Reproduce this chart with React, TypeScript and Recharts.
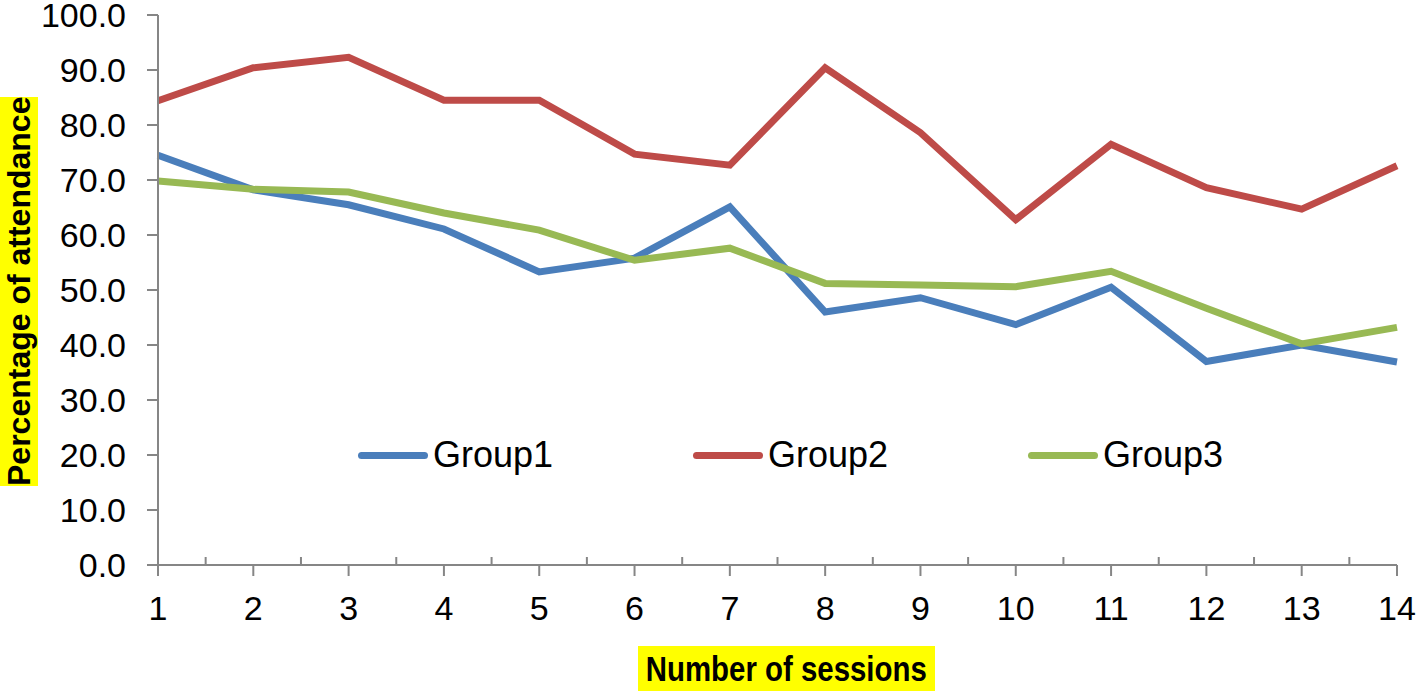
import {
  LineChart,
  Line,
  XAxis,
  YAxis,
} from "recharts";

const sessions = [1, 2, 3, 4, 5, 6, 7, 8, 9, 10, 11, 12, 13, 14];
const group1 = [74.5, 68.2, 65.5, 61.1, 53.3, 55.8, 65.1, 46.0, 48.6, 43.7, 50.5, 37.0, 40.0, 36.9];
const group2 = [84.4, 90.4, 92.3, 84.5, 84.5, 74.7, 72.7, 90.4, 78.6, 62.8, 76.5, 68.6, 64.7, 72.6];
const group3 = [69.8, 68.3, 67.8, 64.0, 60.9, 55.4, 57.6, 51.2, 50.9, 50.6, 53.4, 46.7, 40.2, 43.2];

const yTicks = [0, 10, 20, 30, 40, 50, 60, 70, 80, 90, 100];
// major ticks on sessions, minor ticks half-way between
const xTicks = sessions.flatMap((s) => (s < 14 ? [s, s + 0.5] : [s]));

const seriesNames = ["Group1", "Group2", "Group3"];
const colors = ["#4a7ebb", "#be4b48", "#98b954"];

const chartData = sessions.map((s, i) => ({
  session: s,
  Group1: group1[i],
  Group2: group2[i],
  Group3: group3[i],
}));

const axisColor = "#868686";
const font = "'Liberation Sans', Arial, sans-serif";

const XTick = (props: any) => {
  const { x, y, payload } = props;
  const v = payload.value as number;
  if (!Number.isInteger(v)) {
    return <line x1={x} x2={x} y1={y - 8} y2={y} stroke={axisColor} strokeWidth={2} />;
  }
  return (
    <g>
      <line x1={x} x2={x} y1={y} y2={y + 11} stroke={axisColor} strokeWidth={2} />
      <text
        x={x}
        y={y + 43}
        textAnchor="middle"
        dominantBaseline="central"
        fontSize={34}
        fontFamily={font}
        fill="#000"
      >
        {v}
      </text>
    </g>
  );
};

const App = () => {
  return (
    <div
      style={{
        position: "absolute",
        left: 0,
        top: 0,
        width: 1418,
        height: 691,
        background: "#fff",
      }}
    >
      <LineChart
        width={1418}
        height={691}
        data={chartData}
        margin={{ top: 15, right: 21, left: 0, bottom: 0 }}
      >
        <XAxis
          dataKey="session"
          type="number"
          domain={[1, 14]}
          ticks={xTicks}
          interval={0}
          height={126}
          tickSize={0}
          tickMargin={0}
          tickLine={false}
          tick={<XTick />}
          axisLine={{ stroke: axisColor, strokeWidth: 2 }}
        />
        <YAxis
          domain={[0, 100]}
          ticks={yTicks}
          interval={0}
          width={158}
          tickSize={11}
          tickMargin={21}
          tickFormatter={(v: number) => v.toFixed(1)}
          tick={{ fontSize: 34, fontFamily: font, fill: "#000" }}
          tickLine={{ stroke: axisColor, strokeWidth: 2 }}
          axisLine={{ stroke: axisColor, strokeWidth: 2 }}
        />
        {seriesNames.map((name, i) => (
          <Line
            key={name}
            type="linear"
            dataKey={name}
            stroke={colors[i]}
            strokeWidth={7}
            dot={false}
            activeDot={false}
            isAnimationActive={false}
          />
        ))}
      </LineChart>

      {/* legend sits inside the plot area */}
      <div
        style={{
          position: "absolute",
          left: 358,
          top: 434,
          display: "flex",
          fontFamily: font,
          fontSize: 36,
          color: "#000",
        }}
      >
        {seriesNames.map((name, i) => (
          <div key={name} style={{ width: 335, display: "flex", alignItems: "center" }}>
            <div
              style={{
                width: 70,
                height: 7,
                borderRadius: 4,
                background: colors[i],
                marginRight: 5,
              }}
            />
            <span>{name}</span>
          </div>
        ))}
      </div>

      {/* axis titles with yellow highlight */}
      <div
        style={{
          position: "absolute",
          left: 0,
          top: 97,
          width: 38,
          height: 389,
          background: "#ffff00",
          writingMode: "vertical-rl",
          transform: "rotate(180deg)",
          display: "flex",
          alignItems: "center",
          justifyContent: "center",
          fontFamily: font,
          fontWeight: "bold",
          fontSize: 32,
          lineHeight: "38px",
          whiteSpace: "nowrap",
        }}
      >
        Percentage of attendance
      </div>
      <div
        style={{
          position: "absolute",
          left: 638,
          top: 646,
          width: 297,
          height: 45,
          background: "#ffff00",
          display: "flex",
          alignItems: "center",
          justifyContent: "center",
          overflow: "hidden",
        }}
      >
        <span
          style={{
            fontFamily: font,
            fontWeight: "bold",
            fontSize: 35,
            whiteSpace: "nowrap",
            transform: "scaleX(0.84)",
            display: "inline-block",
          }}
        >
          Number of sessions
        </span>
      </div>
    </div>
  );
};

export default App;
